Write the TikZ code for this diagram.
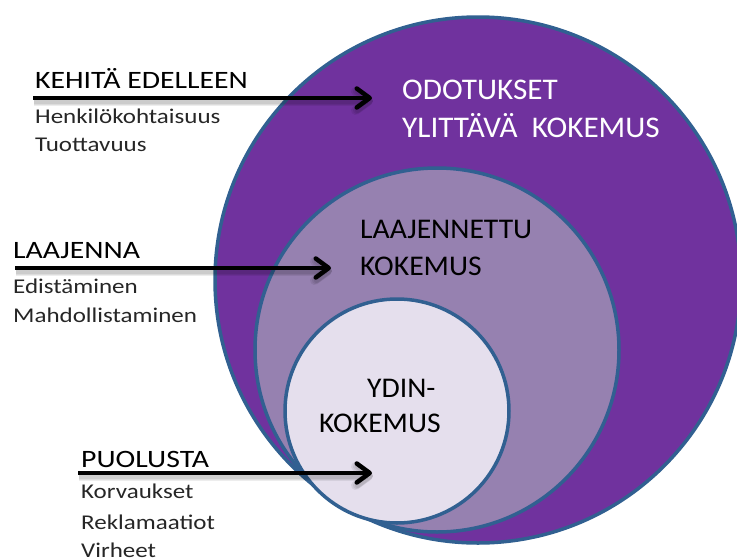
\documentclass[tikz,border=0pt]{standalone}
\usepackage{fontspec}
\setmainfont{Carlito}
\newfontfamily\widefont[FakeStretch=1.19]{Carlito}
\newfontfamily\ringfont[FakeStretch=1.04]{Carlito}
\usetikzlibrary{arrows.meta}

\definecolor{ringdark}{RGB}{112,50,158}
\definecolor{ringmid}{RGB}{150,129,176}
\definecolor{ringcore}{RGB}{229,223,237}
\definecolor{ringline}{RGB}{49,96,145}

\tikzset{
  ring/.style={circle, draw=ringline, line width=3.5pt, inner sep=0pt},
  tipshape/.style={-{Straight Barb[length=13pt,width=19pt,round]}},
  pointer/.style={line width=4.5pt, black, tipshape},
  pointershade/.style={line width=#1, black, opacity=0.07, tipshape},
  head/.style={anchor=base west, inner sep=0pt, font=\widefont\fontsize{25}{30}\selectfont},
  item/.style={anchor=base west, inner sep=0pt, font=\widefont\fontsize{21}{26}\selectfont, text=black!85},
  inlabel/.style={anchor=base west, inner sep=0pt, font=\ringfont\fontsize{28.5}{34}\selectfont},
  outlabel/.style={anchor=base west, inner sep=0pt, font=\ringfont\fontsize{30}{36}\selectfont, text=white}
}

\begin{document}
\begin{tikzpicture}[x=1pt,y=-1pt]
  \useasboundingbox (0,0) rectangle (737,560);

  % nested experience circles
  \node[ring, fill=ringdark, minimum size=526pt] (outer) at (478,280) {};
  \node[ring, fill=ringmid,  minimum size=364pt] (middle) at (437,350) {};
  \node[ring, fill=ringcore, minimum size=224pt] (core) at (397,411) {};

  % circle labels
  \node[outlabel] (t1a) at (402,99)  {ODOTUKSET};
  \node[outlabel] (t1b) at (402,137) {YLITTÄVÄ\ \ KOKEMUS};
  \node[inlabel]  (t2a) at (360,238) {LAAJENNETTU};
  \node[inlabel]  (t2b) at (360,275) {KOKEMUS};
  \node[inlabel]  (t3a) at (367,397) {YDIN-};
  \node[inlabel]  (t3b) at (319,432) {KOKEMUS};

  % arrow end points
  \coordinate (a1s) at (33,98);  \coordinate (a1e) at (372,98);
  \coordinate (a2s) at (15,268); \coordinate (a2e) at (331,268);
  \coordinate (a3s) at (78,473); \coordinate (a3e) at (372,473);

  % soft shadows under the arrows
  \foreach \s/\e in {a1s/a1e, a2s/a2e, a3s/a3e} {
    \foreach \w in {9pt,7pt,5pt} {
      \draw[pointershade=\w] ([shift={(1,3)}]\s) -- ([shift={(1,3)}]\e);
    }
  }

  \draw[pointer] (a1s) -- (a1e);
  \draw[pointer] (a2s) -- (a2e);
  \draw[pointer] (a3s) -- (a3e);

  % left-hand captions
  \node[head] (h1) at (35,88)  {KEHITÄ EDELLEEN};
  \node[item] (h1a) at (35,123) {Henkilökohtaisuus};
  \node[item] (h1b) at (35,151) {Tuottavuus};

  \node[head] (h2) at (13,258) {LAAJENNA};
  \node[item] (h2a) at (13,293) {Edistäminen};
  \node[item] (h2b) at (13,322) {Mahdollistaminen};

  \node[head] (h3) at (81,467) {PUOLUSTA};
  \node[item] (h3a) at (81,498) {Korvaukset};
  \node[item] (h3b) at (81,529) {Reklamaatiot};
  \node[item] (h3c) at (81,557) {Virheet};
\end{tikzpicture}
\end{document}
